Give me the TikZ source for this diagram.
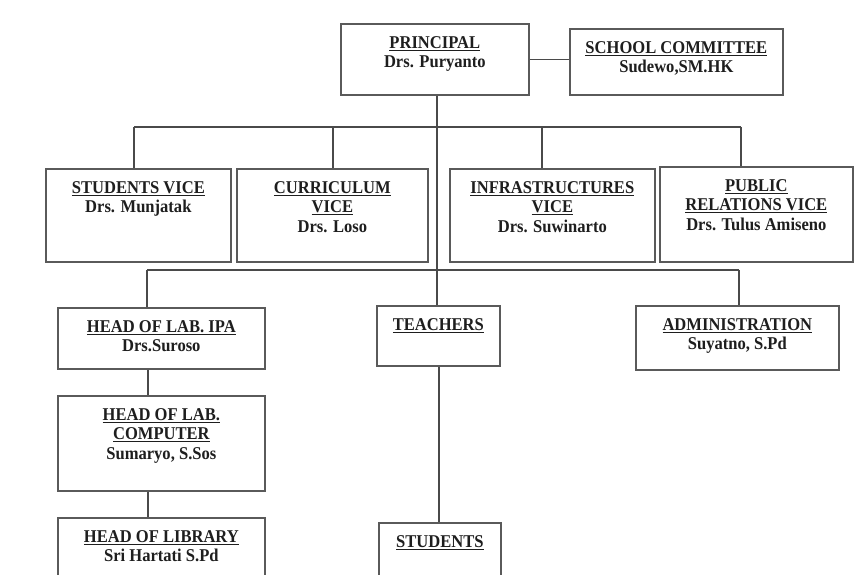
\documentclass[tikz,border=0pt]{standalone}
\usepackage{fontspec}
\setmainfont{Liberation Serif}[FakeStretch=0.92]
\definecolor{txt}{HTML}{1E1E1E}
\definecolor{edge}{HTML}{5A5A5A}
\definecolor{wire}{HTML}{4A4A4A}
\tikzset{
  orgbox/.style={draw=edge, line width=1.7pt, inner sep=0pt, anchor=north west, text=txt, fill=white},
  wirestyle/.style={draw=wire, line width=1.3pt}
}
\newcommand\orgbox[6]{%
  \node[orgbox] (#1) at (#2,#3) {\parbox[c][\dimexpr #5pt-#3pt\relax][t]{\dimexpr #4pt-#2pt\relax}{%
    \fontsize{18}{19.5}\selectfont\bfseries\centering\vspace*{12.5pt}#6\par}};}
\begin{document}
\begin{tikzpicture}[x=1pt,y=-1pt]
\useasboundingbox (0,0) rectangle (855,575);
\clip (0,0) rectangle (855,575);
\fill[white] (0,0) rectangle (855,575);
% connector coordinates
\coordinate (m1) at (437,127);
\coordinate (d1) at (134,127);
\coordinate (d2) at (333,127);
\coordinate (d3) at (542,127);
\coordinate (d4) at (741,127);
\coordinate (e1) at (147,270);
\coordinate (e3) at (739,270);
\coordinate (l1) at (148,368);
\coordinate (l2) at (148,490);
\coordinate (t1) at (439,365);
% boxes
\orgbox{principal}{340}{23}{528}{94}{\underline{PRINCIPAL}\\Drs. Puryanto}
\orgbox{committee}{569}{28}{782}{94}{\underline{SCHOOL COMMITTEE}\\Sudewo,SM.HK}
\orgbox{svice}{45}{168}{230}{261}{\underline{STUDENTS VICE}\\Drs. Munjatak}
\orgbox{cvice}{236}{168}{427}{261}{\underline{CURRICULUM}\\\underline{VICE}\\Drs. Loso}
\orgbox{ivice}{449}{168}{654}{261}{\underline{INFRASTRUCTURES}\\\underline{VICE}\\Drs. Suwinarto}
\orgbox{pvice}{659}{166}{852}{261}{\underline{PUBLIC}\\\underline{RELATIONS VICE}\\Drs. Tulus Amiseno}
\orgbox{labipa}{57}{307}{264}{368}{\underline{HEAD OF LAB. IPA}\\Drs.Suroso}
\orgbox{teachers}{376}{305}{499}{365}{\underline{TEACHERS}}
\orgbox{admin}{635}{305}{838}{369}{\underline{ADMINISTRATION}\\Suyatno, S.Pd}
\orgbox{labcomp}{57}{395}{264}{490}{\underline{HEAD OF LAB.}\\\underline{COMPUTER}\\Sumaryo, S.Sos}
\orgbox{library}{57}{517}{264}{600}{\underline{HEAD OF LIBRARY}\\Sri Hartati S.Pd}
\orgbox{students}{378}{522}{500}{600}{\underline{STUDENTS}}
% wires
\draw[wirestyle] (principal.east) -- (principal.east -| committee.west);
\draw[wirestyle] (principal.south -| m1) -- (teachers.north -| m1);
\draw[wirestyle] (d1) -- (d4);
\draw[wirestyle] (d1) -- (d1 |- svice.north);
\draw[wirestyle] (d2) -- (d2 |- cvice.north);
\draw[wirestyle] (d3) -- (d3 |- ivice.north);
\draw[wirestyle] (d4) -- (d4 |- pvice.north);
\draw[wirestyle] (e1) -- (e3);
\draw[wirestyle] (e1) -- (e1 |- labipa.north);
\draw[wirestyle] (e3) -- (e3 |- admin.north);
\draw[wirestyle] (labipa.south -| l1) -- (labcomp.north -| l1);
\draw[wirestyle] (labcomp.south -| l2) -- (library.north -| l2);
\draw[wirestyle] (teachers.south -| t1) -- (students.north -| t1);
\end{tikzpicture}
\end{document}
